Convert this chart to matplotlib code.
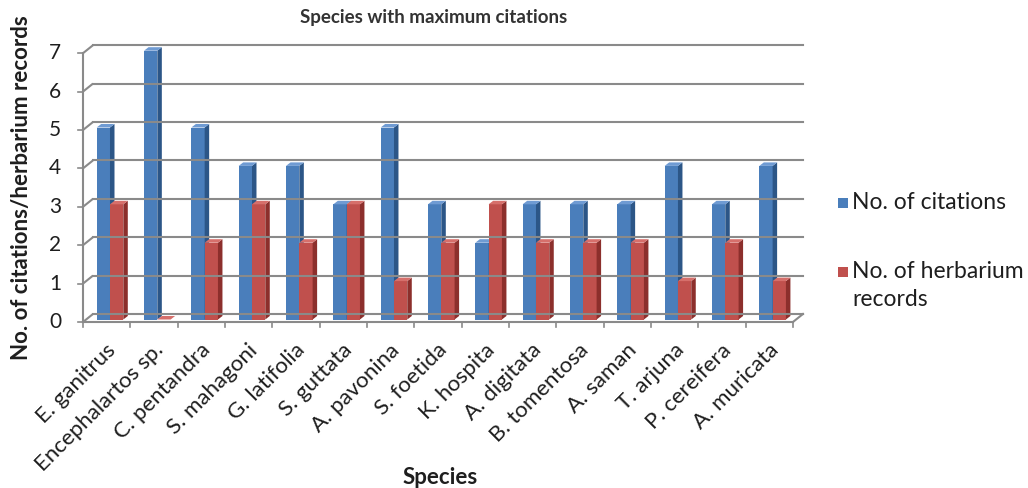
import matplotlib.pyplot as plt
from matplotlib.patches import Polygon, Rectangle

species = ['E. ganitrus', 'Encephalartos sp.', 'C. pentandra', 'S. mahagoni', 'G. latifolia',
           'S. guttata', 'A. pavonina', 'S. foetida', 'K. hospita', 'A. digitata',
           'B. tomentosa', 'A. saman', 'T. arjuna', 'P. cereifera', 'A. muricata']
citations = [5, 7, 5, 4, 4, 3, 5, 3, 2, 3, 3, 3, 4, 3, 4]
herbarium = [3, 0, 2, 3, 2, 3, 1, 2, 3, 2, 2, 2, 1, 2, 1]
yticks = [0, 1, 2, 3, 4, 5, 6, 7]

W, H = 1028, 488
plt.rcParams['font.family'] = ['Lato', 'DejaVu Sans']

# pixel scale of the bar plane
x0_px, sx = 86, 47.33
y0_px, sy = 319.5, 38.4

fig = plt.figure(figsize=(W / 100, H / 100), dpi=100)
ax = fig.add_axes([0, 0, 1, 1])
ax.set_xlim(-x0_px / sx, (W - x0_px) / sx)
ax.set_ylim((y0_px - H) / sy, y0_px / sy)
ax.axis('off')

def dxp(p):
    return p / sx

def dyp(p):
    return p / sy

# offsets (front plane, back wall, bar depth)
fx, fy = dxp(-3), dyp(-2.5)
bx, by = dxp(7), dyp(5.5)
ddx, ddy = dxp(4.5), dyp(3.5)
n = len(species)
grid_c = '#8a8a8a'
txt_c = '#1e1e1e'

# walls and gridlines
for v in yticks:
    ax.plot([fx, bx], [v + fy, v + by], color=grid_c, lw=1.5, solid_capstyle='butt')
    ax.plot([bx, n + bx], [v + by, v + by], color=grid_c, lw=1.5)
    ax.plot([fx - dxp(5), fx], [v + fy, v + fy], color=grid_c, lw=1.2)
    ax.text(fx - dxp(28), v + fy, str(v), ha='center', va='center', fontsize=15, color=txt_c)
ax.plot([fx, fx], [fy, 7 + fy], color=grid_c, lw=1.5)
ax.plot([fx, n + fx], [fy, fy], color=grid_c, lw=1.5)
ax.plot([n + fx, n + bx], [fy, by], color=grid_c, lw=1.5)
for i in range(n + 1):
    ax.plot([i + fx, i + fx], [fy, fy - dyp(5)], color=grid_c, lw=1.2)


def bar3d(x, w, h, front, side, top):
    ax.add_patch(Rectangle((x, 0), w, h, facecolor=front, edgecolor='none'))
    ax.add_patch(Polygon([(x + w, 0), (x + w + ddx, ddy), (x + w + ddx, h + ddy), (x + w, h)],
                         facecolor=side, edgecolor='none'))
    ax.add_patch(Polygon([(x, h), (x + ddx, h + ddy), (x + w + ddx, h + ddy), (x + w, h)],
                         facecolor=top, edgecolor='none'))


bw = 0.281
for i in range(n):
    bar3d(i + 0.226, bw, citations[i], '#4a7ebb', '#2c5687', '#6f9bd3')
    bar3d(i + 0.226 + bw, bw, herbarium[i], '#c0504d', '#8c2f2c', '#d66f6b')

# category labels
for i, name in enumerate(species):
    ax.text(i + 0.5 + dxp(3), fy - dyp(25), name, rotation=45, rotation_mode='anchor',
            ha='right', va='center', fontsize=16, color=txt_c)

ax.text(dxp(-64), 3.5 + fy, 'No. of citations/herbarium records', rotation=90,
        ha='center', va='center', fontsize=16, fontweight='bold', color=txt_c)
fig.text(434 / W, 1 - 18 / H, 'Species with maximum citations', ha='center', va='center',
         fontsize=13.5, fontweight='bold', color='#333333')
fig.text(440 / W, 1 - 478 / H, 'Species', ha='center', va='center',
         fontsize=16, fontweight='bold', color=txt_c)

# legend
for yp, col, lab in [(203, '#4a7ebb', 'No. of citations'), (272, '#c0504d', 'No. of herbarium')]:
    fig.patches.append(Rectangle(((838) / W, 1 - (yp + 5) / H), 10 / W, 10 / H,
                                 transform=fig.transFigure, facecolor=col, edgecolor='none'))
    fig.text(852 / W, 1 - yp / H, lab, ha='left', va='center', fontsize=16.5, color=txt_c)
fig.text(852 / W, 1 - 299 / H, 'records', ha='left', va='center', fontsize=16.5, color=txt_c)

fig.savefig('out.png', dpi=100)
